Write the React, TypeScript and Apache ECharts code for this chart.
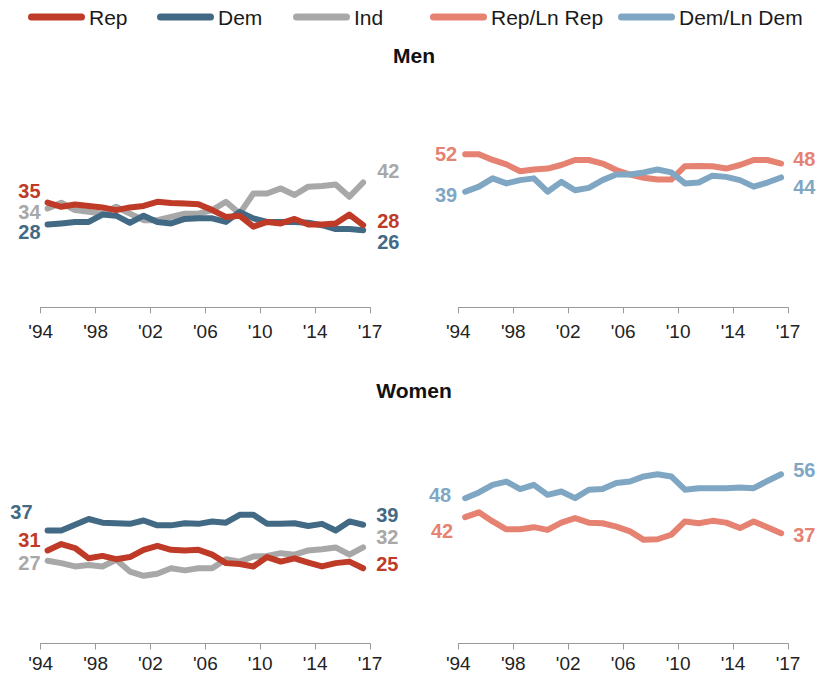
import React, { useEffect, useRef } from "react";
import * as echarts from "echarts";

const YEARS = ["1994","1995","1996","1997","1998","1999","2000","2001","2002","2003","2004","2005","2006","2007","2008","2009","2010","2011","2012","2013","2014","2015","2016","2017"];
const TICK_LABELS = ["'94", "'98", "'02", "'06", "'10", "'14", "'17"];

// Men
const menRep = [35.3, 33.9, 34.7, 34.2, 33.7, 32.8, 33.7, 34.2, 35.6, 35.2, 35.0, 34.8, 32.8, 30.5, 30.9, 27.2, 28.8, 28.3, 29.8, 27.9, 27.9, 28.3, 31.3, 27.7];
const menDem = [27.9, 28.3, 28.8, 28.8, 31.3, 30.9, 28.5, 30.9, 28.8, 28.3, 29.8, 30.0, 30.0, 28.8, 32.2, 30.0, 28.8, 28.8, 28.8, 28.5, 27.7, 26.4, 26.4, 26.0];
const menInd = [33.3, 35.3, 32.8, 32.2, 31.6, 33.9, 31.6, 29.4, 29.4, 30.5, 31.6, 31.6, 32.8, 35.6, 31.6, 38.4, 38.4, 40.1, 37.9, 40.7, 40.9, 41.4, 37.3, 42.1];
const menRepLn = [51.6, 51.6, 49.7, 48.2, 45.9, 46.5, 46.8, 48.0, 49.7, 49.7, 48.5, 46.3, 44.8, 43.7, 43.1, 43.1, 47.6, 47.7, 47.6, 46.8, 48.0, 49.7, 49.7, 48.5];
const menDemLn = [39.0, 40.7, 43.5, 41.8, 42.9, 43.5, 39.0, 42.3, 39.5, 40.3, 42.9, 44.8, 44.8, 45.5, 46.5, 45.5, 41.8, 42.1, 44.4, 44.0, 42.9, 40.7, 42.1, 43.8];

// Women
const womenRep = [30.8, 32.9, 31.6, 28.2, 29.0, 27.9, 28.6, 31.0, 32.3, 31.0, 30.8, 31.0, 29.4, 26.6, 26.3, 25.5, 28.6, 27.1, 28.2, 26.8, 25.5, 26.6, 27.1, 24.9];
const womenDem = [37.4, 37.4, 39.3, 41.2, 40.0, 39.8, 39.6, 40.7, 39.1, 39.1, 39.8, 39.6, 40.4, 40.0, 42.6, 42.6, 39.6, 39.6, 39.8, 38.9, 39.6, 37.4, 40.4, 39.3];
const womenInd = [27.4, 26.6, 25.5, 26.0, 25.5, 27.7, 23.8, 22.4, 23.1, 24.9, 24.2, 24.9, 24.9, 27.9, 27.1, 28.8, 29.0, 29.9, 29.4, 30.8, 31.2, 31.8, 29.4, 31.8];
const womenRepLn = [41.8, 43.4, 40.4, 37.8, 37.8, 38.5, 37.6, 40.0, 41.5, 40.0, 39.8, 38.7, 37.1, 34.3, 34.5, 36.0, 40.4, 39.8, 40.6, 40.0, 38.2, 40.4, 38.5, 36.5];
const womenDemLn = [48.1, 50.0, 52.5, 53.6, 51.1, 52.5, 49.2, 50.3, 48.1, 50.9, 51.1, 53.1, 53.6, 55.3, 56.0, 55.3, 50.9, 51.4, 51.4, 51.4, 51.6, 51.4, 53.8, 56.0];

// Start / end labels [start, end]
const menRepLabels = [35, 28];
const menDemLabels = [28, 26];
const menIndLabels = [34, 42];
const menRepLnLabels = [52, 48];
const menDemLnLabels = [39, 44];
const womenRepLabels = [31, 25];
const womenDemLabels = [37, 39];
const womenIndLabels = [27, 32];
const womenRepLnLabels = [42, 37];
const womenDemLnLabels = [48, 56];

const C_REP = "#BF3A27";
const C_DEM = "#436A85";
const C_IND = "#A8A8A8";
const C_REPLN = "#E68272";
const C_DEMLN = "#7FA7C4";

const FONT = "'Liberation Sans', Arial, sans-serif";

function mkSeries(
  name: string,
  data: number[],
  color: string,
  grid: number,
  labels: number[],
  startOff: number[],
  endOff: number[],
  z: number
) {
  const last = data.length - 1;
  const lblBase = { show: true, color, fontSize: 20, lineHeight: 20, fontWeight: "bold", fontFamily: FONT };
  return {
    type: "line",
    name,
    xAxisIndex: grid * 2,
    yAxisIndex: grid,
    z,
    symbol: "circle",
    symbolSize: 2,
    showSymbol: true,
    itemStyle: { color },
    lineStyle: { color, width: 6, cap: "round", join: "round" },
    emphasis: { disabled: true },
    label: { show: false },
    data: data.map((v, i) => {
      if (i === 0)
        return {
          value: v,
          label: { ...lblBase, position: "left", distance: startOff[0], offset: [0, startOff[1]], formatter: String(labels[0]) },
        };
      if (i === last)
        return {
          value: v,
          label: { ...lblBase, position: "right", distance: endOff[0], offset: [0, endOff[1]], formatter: String(labels[1]) },
        };
      return v;
    }),
  };
}

const GRIDS = [
  { left: 40.7, width: 329.3, top: 99.8, height: 207.5 },
  { left: 458.3, width: 329.7, top: 99.8, height: 207.5 },
  { left: 40.7, width: 329.3, top: 432, height: 211.5 },
  { left: 458.3, width: 329.7, top: 432, height: 211.5 },
];

const LEGENDS = [
  { name: "Rep", left: 28 },
  { name: "Dem", left: 157 },
  { name: "Ind", left: 293 },
  { name: "Rep/Ln Rep", left: 430 },
  { name: "Dem/Ln Dem", left: 618 },
];

export default function App() {
  const ref = useRef<HTMLDivElement>(null);
  useEffect(() => {
    if (!ref.current) return;
    const chart = echarts.init(ref.current, null, { renderer: "svg" });
    const xAxes: any[] = [];
    GRIDS.forEach((_, g) => {
      xAxes.push({
        type: "category",
        gridIndex: g,
        data: YEARS,
        boundaryGap: true,
        show: false,
      });
      xAxes.push({
        type: "category",
        gridIndex: g,
        data: TICK_LABELS,
        boundaryGap: false,
        position: "bottom",
        axisLine: { show: true, lineStyle: { color: "#9a9a9a", width: 1 } },
        axisTick: { show: true, length: 6, lineStyle: { color: "#9a9a9a" } },
        axisLabel: {
          interval: 0,
          color: "#222",
          fontSize: 19,
          fontFamily: FONT,
          margin: g < 2 ? 15 : 10,
        },
        splitLine: { show: false },
      });
    });
    const option: any = {
      animation: false,
      backgroundColor: "#fff",
      title: [
        { text: "Men", left: "center", top: 40, textStyle: { fontSize: 21, fontWeight: "bold", color: "#111", fontFamily: FONT } },
        { text: "Women", left: "center", top: 375, textStyle: { fontSize: 21, fontWeight: "bold", color: "#111", fontFamily: FONT } },
      ],
      legend: LEGENDS.map((l) => ({
        data: [l.name],
        left: l.left,
        top: 6,
        padding: 0,
        itemWidth: 57,
        itemHeight: 7,
        icon: "path://M3.5,0 H53.5 A3.5,3.5 0 0 1 53.5,7 H3.5 A3.5,3.5 0 0 1 3.5,0 Z",
        selectedMode: false,
        textStyle: { fontSize: 21, color: "#1a1a1a", fontFamily: FONT, lineHeight: 22, padding: [0, 0, 0, -1] },
      })),
      grid: GRIDS.map((g) => ({ ...g, containLabel: false })),
      xAxis: xAxes,
      yAxis: GRIDS.map((_, g) => ({
        type: "value",
        gridIndex: g,
        min: 0,
        max: 70,
        show: false,
      })),
      series: [
        mkSeries("Ind", menInd, C_IND, 0, menIndLabels, [6, 3.5], [13, -12], 1),
        mkSeries("Dem", menDem, C_DEM, 0, menDemLabels, [6, 7.5], [13, 11.5], 2),
        mkSeries("Rep", menRep, C_REP, 0, menRepLabels, [6, -12], [13, -4.5], 3),
        mkSeries("Rep/Ln Rep", menRepLn, C_REPLN, 1, menRepLnLabels, [7, 0], [11, -5], 1),
        mkSeries("Dem/Ln Dem", menDemLn, C_DEMLN, 1, menDemLnLabels, [7, 3], [11, 10], 2),
        mkSeries("Ind", womenInd, C_IND, 2, womenIndLabels, [6, 2], [12, -10.5], 1),
        mkSeries("Dem", womenDem, C_DEM, 2, womenDemLabels, [14, -18], [12, -10], 2),
        mkSeries("Rep", womenRep, C_REP, 2, womenRepLabels, [6, -10], [12, -4], 3),
        mkSeries("Rep/Ln Rep", womenRepLn, C_REPLN, 3, womenRepLnLabels, [11, 14], [11, 2], 1),
        mkSeries("Dem/Ln Dem", womenDemLn, C_DEMLN, 3, womenDemLnLabels, [13, -3], [11, -4], 2),
      ],
    };
    chart.setOption(option);
    return () => chart.dispose();
  }, []);
  return (
    <div
      ref={ref}
      style={{ position: "fixed", left: 0, top: 0, width: 828, height: 683, background: "#fff" }}
    />
  );
}
